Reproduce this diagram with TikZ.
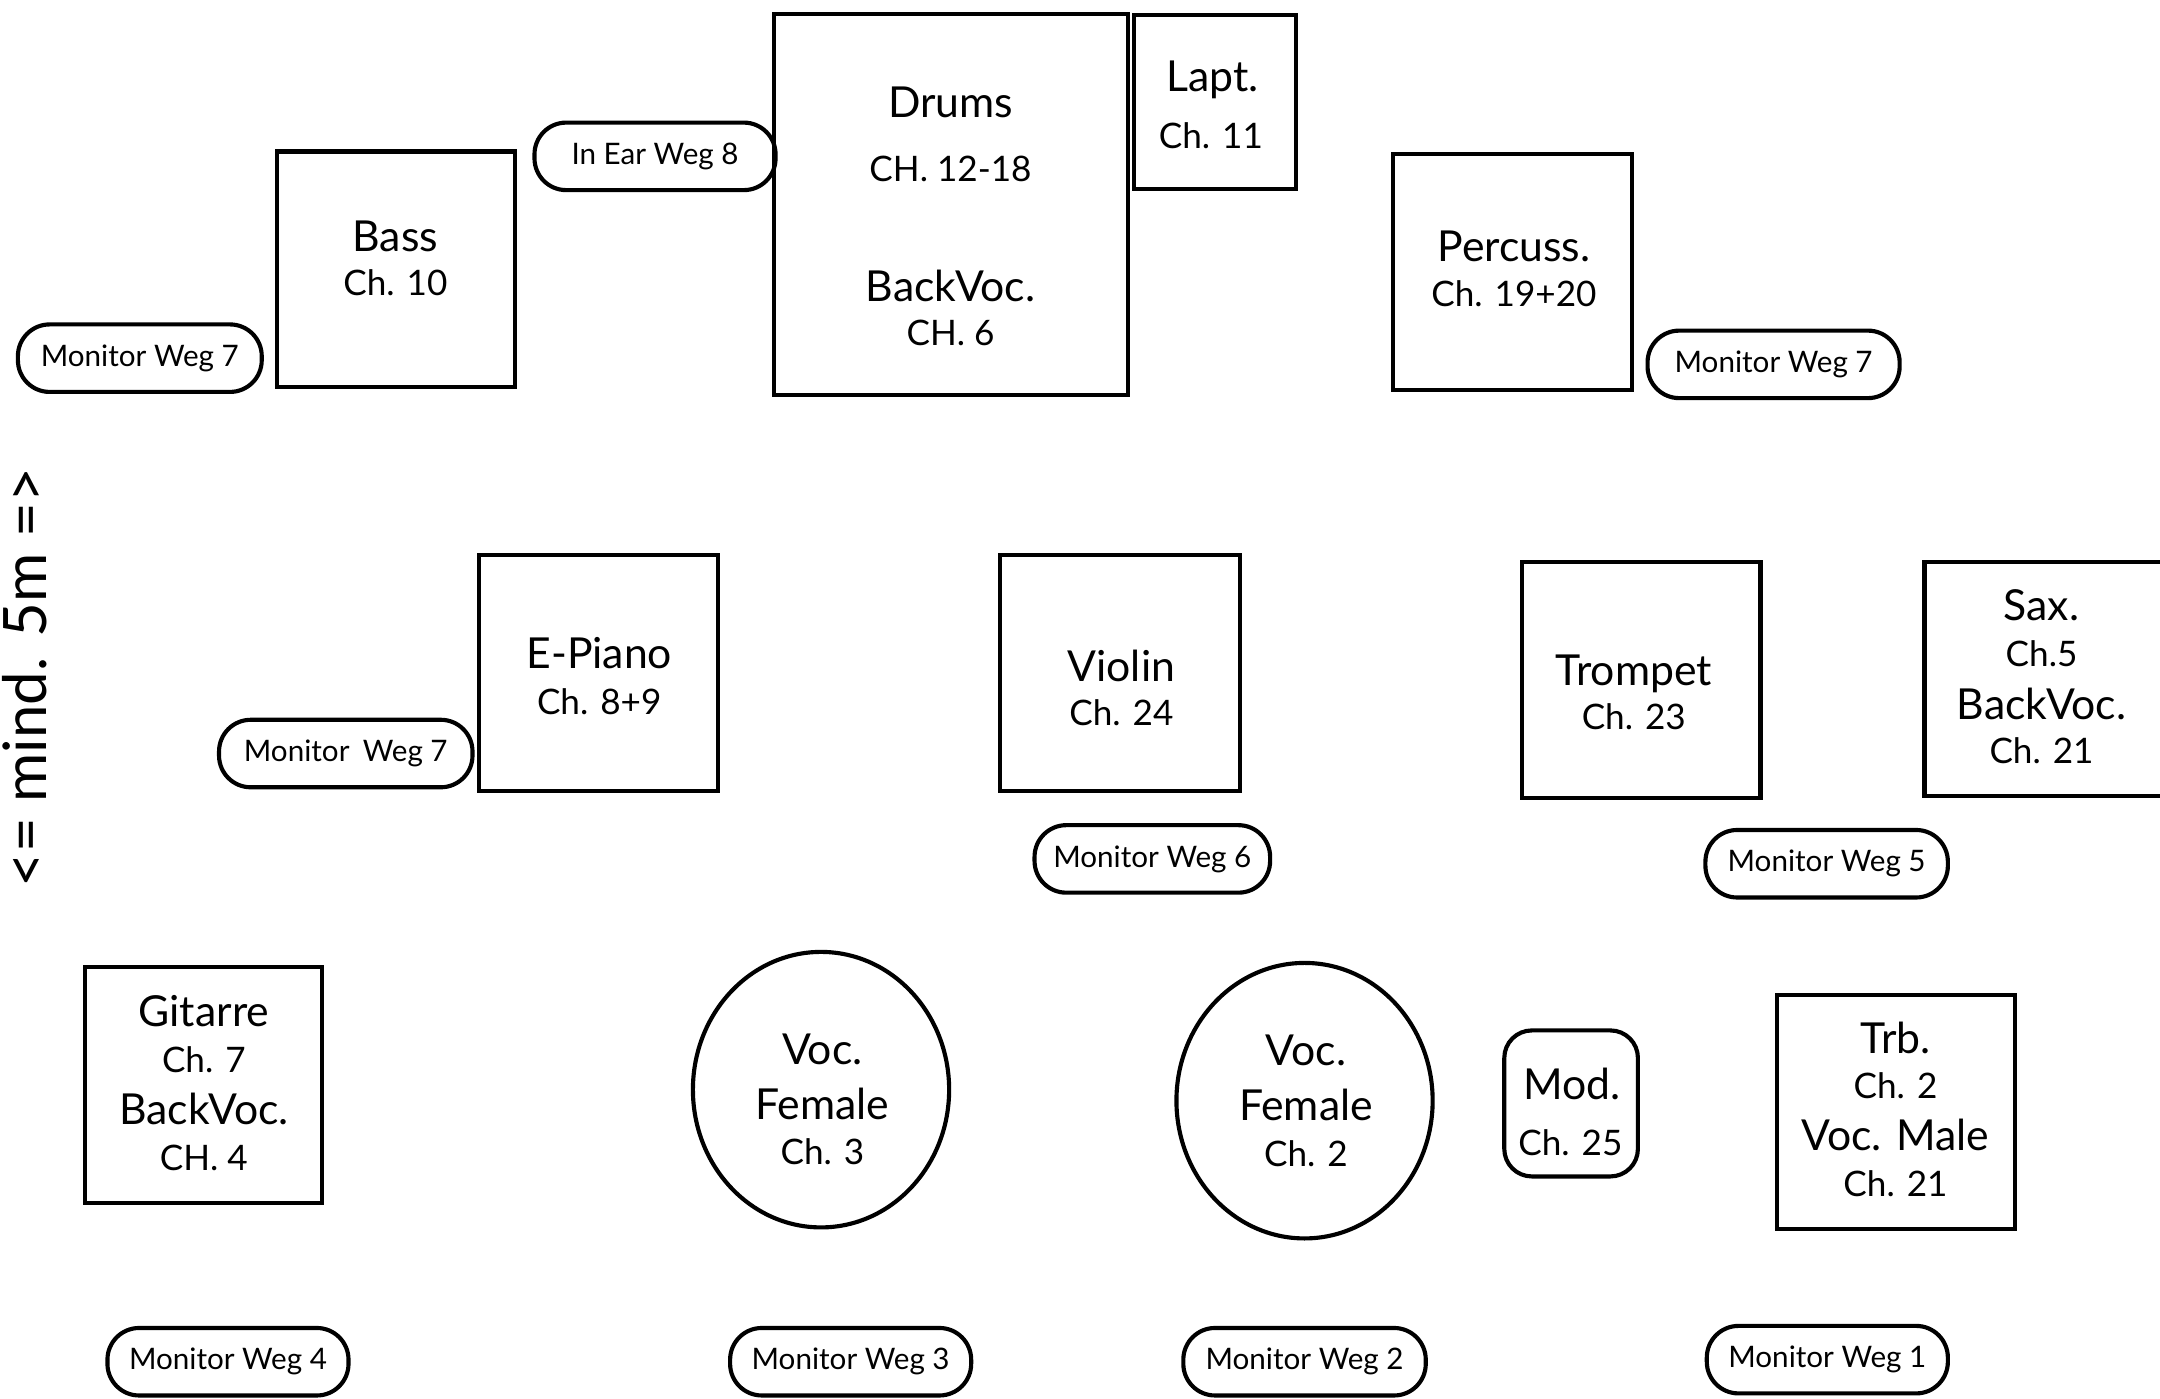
\documentclass[tikz,border=0pt]{standalone}
\usepackage{fontspec}
\setmainfont{Lato}
\usetikzlibrary{shapes.geometric}
\tikzset{
  box/.style={draw, line width=3pt, inner sep=0pt, rectangle},
  pill/.style={draw, line width=3pt, inner sep=0pt, rectangle, rounded corners=23pt, minimum height=49pt, font=\fontsize{21.5}{24}\selectfont},
  oval/.style={draw, line width=3pt, inner sep=0pt, ellipse, minimum width=186pt, minimum height=200pt},
  tt/.style={anchor=base, inner sep=0pt, font=\fontsize{31}{34}\selectfont},
  ch/.style={anchor=base, inner sep=0pt, font=\fontsize{25.5}{28}\selectfont},
}
\begin{document}
\begin{tikzpicture}[x=1pt, y=-1pt]
\useasboundingbox (0,0) rectangle (1568,1015);
\clip (0,0) rectangle (1568,1015);
% Row 1
\node[box, minimum width=173pt, minimum height=171pt] (bass) at (287.5,195.5) {};
\node[tt] (bassT) at (287,182.5) {Bass};
\node[ch] (bassC) at (287,214.5) {Ch. 10};
\node[pill, minimum width=177pt] (mw7a) at (101.5,260) {Monitor Weg 7};
\node[pill, minimum width=175pt] (ie8) at (475.5,113.5) {In Ear Weg 8};
\node[box, minimum width=257pt, minimum height=277pt] (drums) at (690.5,148.5) {};
\node[tt] (drT) at (690,85.5) {Drums};
\node[ch] (drC) at (690,131.5) {CH. 12-18};
\node[tt] (drB) at (690,218.5) {BackVoc.};
\node[ch] (drB2) at (690,250.5) {CH. 6};
\node[box, minimum width=118pt, minimum height=126pt] (lapt) at (882,74) {};
\node[tt] (lpT) at (880,66.5) {Lapt.};
\node[ch] (lpC) at (879,107.5) {Ch. 11};
\node[box, minimum width=174pt, minimum height=171pt] (perc) at (1098,197.5) {};
\node[tt] (pcT) at (1099,189.5) {Percuss.};
\node[ch] (pcC) at (1099,222.5) {Ch. 19+20};
\node[pill, minimum width=183pt] (mw7b) at (1287.5,264.5) {Monitor Weg 7};
% rotated label
\node[rotate=90, anchor=base, inner sep=0pt, font=\fontsize{43.5}{46}\selectfont] (mind) at (34,492) {<= mind. 5m =>};
% Row 2
\node[box, minimum width=173pt, minimum height=171pt] (epiano) at (434.5,488.5) {};
\node[tt] (epT) at (435,485.5) {E-Piano};
\node[ch] (epC) at (435,518.5) {Ch. 8+9};
\node[pill, minimum width=184pt] (mw7c) at (251,547) {Monitor\hspace{0.45em}Weg 7};
\node[box, minimum width=174pt, minimum height=171pt] (violin) at (813,488.5) {};
\node[tt] (vlT) at (814,494.5) {Violin};
\node[ch] (vlC) at (814,526.5) {Ch. 24};
\node[pill, minimum width=171pt] (mw6) at (836.5,623.5) {Monitor Weg 6};
\node[box, minimum width=173pt, minimum height=171pt] (trompet) at (1191.5,493.5) {};
\node[tt] (trT) at (1186,497.5) {Trompet};
\node[ch] (trC) at (1186,529.5) {Ch. 23};
\node[box, minimum width=190pt, minimum height=170pt] (sax) at (1492,493) {};
\node[tt] (sxT) at (1482,450.5) {Sax.};
\node[ch] (sxC) at (1482,483.5) {Ch.5};
\node[tt] (sxB) at (1482,522.5) {BackVoc.};
\node[ch] (sxB2) at (1482,554.5) {Ch. 21};
\node[pill, minimum width=176pt] (mw5) at (1326,627) {Monitor Weg 5};
% Row 3
\node[box, minimum width=172pt, minimum height=171pt] (gitarre) at (148,787.5) {};
\node[tt] (gtT) at (148,745.5) {Gitarre};
\node[ch] (gtC) at (148,778.5) {Ch. 7};
\node[tt] (gtB) at (148,816.5) {BackVoc.};
\node[ch] (gtB2) at (148,849.5) {CH. 4};
\node[oval] (vf1) at (596,791) {};
\node[tt] (vf1a) at (597,772.5) {Voc.};
\node[tt] (vf1b) at (597,812.5) {Female};
\node[ch] (vf1c) at (597,845.5) {Ch. 3};
\node[oval] (vf2) at (947,799) {};
\node[tt] (vf2a) at (948,773.5) {Voc.};
\node[tt] (vf2b) at (948,813.5) {Female};
\node[ch] (vf2c) at (948,846.5) {Ch. 2};
\node[box, rounded corners=20pt, minimum width=97pt, minimum height=106pt] (mod) at (1140.5,801) {};
\node[tt] (mdT) at (1141,798.5) {Mod.};
\node[ch] (mdC) at (1140,838.5) {Ch. 25};
\node[box, minimum width=173pt, minimum height=170pt] (trb) at (1376.5,807) {};
\node[tt] (tbT) at (1376,764.5) {Trb.};
\node[ch] (tbC) at (1376,797.5) {Ch. 2};
\node[tt] (tbV) at (1376,835.5) {Voc. Male};
\node[ch] (tbC2) at (1376,868.5) {Ch. 21};
% Row 4
\node[pill, minimum width=175pt] (mw4) at (165.5,988.5) {Monitor Weg 4};
\node[pill, minimum width=175pt] (mw3) at (617.5,988.5) {Monitor Weg 3};
\node[pill, minimum width=176pt] (mw2) at (947,988.5) {Monitor Weg 2};
\node[pill, minimum width=175pt] (mw1) at (1326.5,987) {Monitor Weg 1};
\end{tikzpicture}
\end{document}
